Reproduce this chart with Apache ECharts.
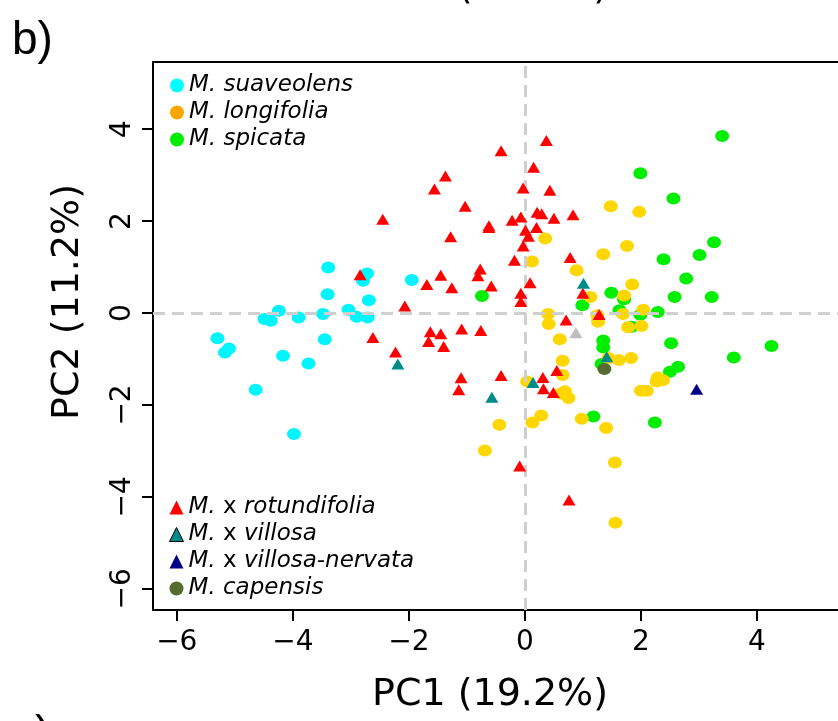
<!DOCTYPE html>
<html><head><meta charset="utf-8">
<script src="https://cdn.jsdelivr.net/npm/echarts@6/dist/echarts.min.js"></script>
<style>html,body{margin:0;padding:0;background:#fff;overflow:hidden}#c{width:838px;height:721px}</style>
</head><body><div id="c"></div>
<script>
const xTicks = [-6, -4, -2, 0, 2, 4];
const yTicks = [-6, -4, -2, 0, 2, 4];

const suaveolens = [[-3.39,0.99],[-2.72,0.86],[-2.79,0.70],[-1.95,0.72],[-3.40,0.41],[-2.69,0.28],[-4.24,0.05],[-3.48,-0.02],[-3.04,0.07],[-2.90,-0.08],[-2.71,-0.10],[-3.90,-0.10],[-4.49,-0.13],[-4.38,-0.17],[-5.30,-0.55],[-5.10,-0.77],[-5.17,-0.86],[-3.45,-0.57],[-4.17,-0.93],[-3.73,-1.10],[-4.64,-1.67],[-3.98,-2.63]];

const spicata = [[3.40,3.85],[1.99,3.04],[2.56,2.49],[3.26,1.54],[3.01,1.26],[2.39,1.17],[2.78,0.75],[2.58,0.35],[3.22,0.35],[1.49,0.44],[1.71,0.30],[0.99,0.17],[1.63,0.06],[1.99,-0.04],[2.29,0.02],[1.84,-0.30],[2.52,-0.66],[4.25,-0.72],[1.35,-0.60],[1.35,-0.75],[3.60,-0.97],[2.64,-1.17],[2.50,-1.28],[1.32,-1.11],[1.18,-2.25],[2.24,-2.38],[-0.74,0.37]];

const longifolia = [[1.48,2.32],[1.97,2.20],[1.76,1.46],[1.35,1.28],[0.89,0.93],[1.85,0.62],[1.13,0.35],[1.71,0.38],[2.04,0.07],[1.69,-0.02],[1.25,-0.05],[0.35,1.62],[0.12,1.12],[0.40,-0.02],[1.26,-0.19],[1.78,-0.31],[2.01,-0.28],[0.60,-0.57],[0.65,-1.04],[0.65,-1.35],[1.44,-0.98],[1.62,-1.02],[1.83,-0.98],[2.29,-1.40],[2.38,-1.46],[2.27,-1.49],[2.00,-1.69],[2.10,-1.69],[0.69,-1.70],[0.75,-1.85],[0.98,-2.30],[1.40,-2.50],[1.55,-3.25],[1.56,-4.56],[0.41,-0.24],[0.04,-1.49],[0.62,-1.75],[0.28,-2.23],[0.13,-2.38],[-0.44,-2.43],[-0.69,-2.99]];

const rotundifolia = [[0.37,3.75],[-0.41,3.53],[0.15,3.17],[-1.37,2.98],[-1.56,2.70],[-0.03,2.72],[0.43,2.67],[-1.03,2.32],[-2.45,2.04],[-0.22,2.02],[-0.07,2.09],[0.21,2.19],[0.29,2.16],[0.50,2.06],[0.83,2.14],[-0.62,1.90],[-0.62,1.86],[0.01,1.80],[0.20,1.86],[0.06,1.67],[-1.28,1.66],[-0.03,1.46],[-0.18,1.15],[0.78,1.21],[-0.77,0.96],[-0.81,0.81],[-2.84,0.83],[-1.45,0.82],[-1.69,0.62],[-1.26,0.55],[-0.58,0.59],[0.09,0.66],[-0.07,0.43],[-0.07,0.25],[-2.07,0.15],[1.00,0.43],[0.71,-0.15],[1.28,-0.03],[-1.09,-0.35],[-0.76,-0.38],[-1.10,-1.41],[-0.41,-1.36],[-1.14,-1.67],[0.31,-1.40],[0.55,-1.25],[0.32,-1.65],[0.49,-1.73],[-0.09,-3.33],[0.76,-4.07],[-1.63,-0.41],[-1.45,-0.45],[-1.66,-0.62],[-1.40,-0.73],[-2.62,-0.53],[-2.23,-0.85]];

const villosa = [[-2.19,-1.11],[1.01,0.65],[0.14,-1.51],[-0.57,-1.83],[1.41,-0.95]];
const villosaNervata = [[2.96,-1.66]];
const unassigned = [[0.88,-0.43]];
const capensis = [[1.37,-1.22]];

const FONT = 'DejaVu Sans';
const chart = echarts.init(document.getElementById('c'));

const circle = [14, 12];
const tri = [13, 11];
function sc(name, data, symbol, size, color, z) {
  return { type: 'scatter', name: name, data: data, symbol: symbol, symbolSize: size,
    itemStyle: { color: color, opacity: 1 }, z: z, silent: true, animation: false };
}

const rich = {
  i: { fontStyle: 'italic', fontSize: 23, fontFamily: FONT, color: '#000' },
  n: { fontStyle: 'normal', fontSize: 23, fontFamily: FONT, color: '#000' }
};
function fmt(name) {
  if (name.indexOf(' x ') >= 0) {
    const p = name.split(' x ');
    return '{i|' + p[0] + '} {n|x} {i|' + p[1] + '}';
  }
  return '{i|' + name + '}';
}
const legendBase = {
  orient: 'vertical', itemWidth: 14, itemHeight: 14, itemGap: 4, itemTextGap: 6,
  selectedMode: false, formatter: fmt,
  textStyle: { fontSize: 23, fontFamily: FONT, color: '#000', rich: rich, lineHeight: 23 }
};

chart.setOption({
  animation: false,
  backgroundColor: '#fff',
  grid: { left: 153, top: 62, width: 691, bottom: 111, outerBoundsMode: 'none', containLabel: false,
    show: true, borderColor: '#000', borderWidth: 2, backgroundColor: 'transparent' },
  xAxis: {
    type: 'value', min: -6.41, max: 5.5,
    axisLine: { show: true, onZero: false, lineStyle: { color: '#000', width: 2 } },
    axisTick: { show: true, inside: false, length: 11, customValues: xTicks, lineStyle: { color: '#000', width: 2 } },
    axisLabel: { customValues: xTicks, margin: 19, fontSize: 28, fontFamily: FONT, color: '#000',
      formatter: v => String(v).replace('-', '\u2212') },
    splitLine: { show: false }
  },
  yAxis: {
    type: 'value', min: -6.46, max: 5.46,
    axisLine: { show: true, onZero: false, lineStyle: { color: '#000', width: 2 } },
    axisTick: { show: true, inside: false, length: 11, customValues: yTicks, lineStyle: { color: '#000', width: 2 } },
    axisLabel: { customValues: yTicks, margin: 16, rotate: 90, fontSize: 28, fontFamily: FONT, color: '#000',
      formatter: v => String(v).replace('-', '\u2212') },
    splitLine: { show: false }
  },
  legend: [
    Object.assign({}, legendBase, { left: 165, top: 69, data: [
      { name: 'M. suaveolens', icon: 'circle', itemStyle: { color: '#00ffff' } },
      { name: 'M. longifolia', icon: 'circle', itemStyle: { color: '#ffa500' } },
      { name: 'M. spicata', icon: 'circle', itemStyle: { color: '#00ee00' } }
    ]}),
    Object.assign({}, legendBase, { left: 164, top: 491, data: [
      { name: 'M. x rotundifolia', icon: 'triangle', itemStyle: { color: '#ff0000' } },
      { name: 'M. x villosa', icon: 'triangle', itemStyle: { color: '#008b8b', borderColor: '#000', borderWidth: 1 } },
      { name: 'M. x villosa-nervata', icon: 'triangle', itemStyle: { color: '#00008b' } },
      { name: 'M. capensis', icon: 'circle', itemStyle: { color: '#556b2f' } }
    ]})
  ],
  series: [
    { type: 'scatter', name: 'zero', data: [], z: 1, silent: true,
      markLine: { silent: true, symbol: ['none', 'none'], label: { show: false },
        lineStyle: { color: '#cfcfcf', width: 3, type: [12, 7] },
        data: [{ xAxis: 0 }, { yAxis: 0 }] } },
    sc('M. suaveolens', suaveolens, 'circle', circle, '#00f5ff', 2),
    sc('M. spicata', spicata, 'circle', circle, '#00ee00', 3),
    sc('M. longifolia', longifolia, 'circle', circle, '#ffd700', 4),
    sc('M. x rotundifolia', rotundifolia, 'triangle', tri, '#ff0000', 5),
    sc('M. x villosa', villosa, 'triangle', tri, '#008b8b', 6),
    sc('M. x villosa-nervata', villosaNervata, 'triangle', tri, '#00008b', 6),
    sc('unassigned', unassigned, 'triangle', tri, '#bebebe', 6),
    sc('M. capensis', capensis, 'circle', circle, '#556b2f', 7)
  ],
  graphic: [
    { type: 'text', x: 490, y: 695, style: { text: 'PC1 (19.2%)', font: '38px "DejaVu Sans"', fill: '#000', align: 'center', verticalAlign: 'middle' } },
    { type: 'text', x: 68, y: 302, rotation: Math.PI / 2, style: { text: 'PC2 (11.2%)', font: '38px "DejaVu Sans"', fill: '#000', align: 'center', verticalAlign: 'middle' } },
    { type: 'text', x: 12, y: 18, style: { text: 'b)', font: '46px "Liberation Sans"', fill: '#000', align: 'left', verticalAlign: 'top' } },
    { type: 'text', x: 490, y: -12, style: { text: 'PC1 (19.2%)', font: '38px "DejaVu Sans"', fill: '#000', align: 'center', verticalAlign: 'middle' } },
    { type: 'text', x: 12, y: 712, style: { text: 'c)', font: '46px "Liberation Sans"', fill: '#000', align: 'left', verticalAlign: 'top' } }
  ]
});
</script></body></html>
